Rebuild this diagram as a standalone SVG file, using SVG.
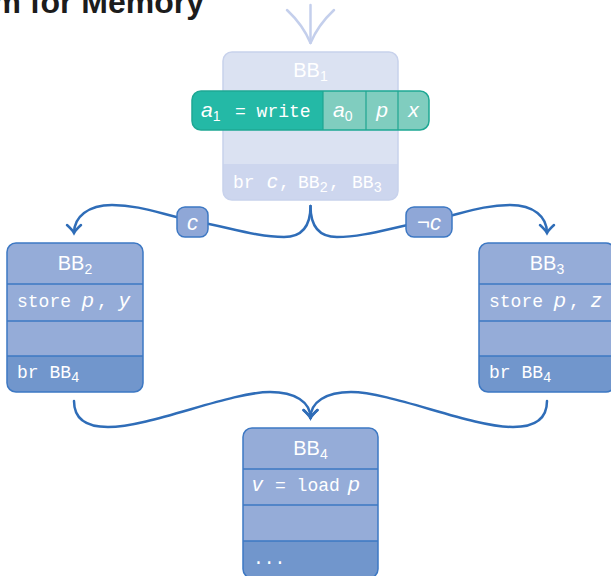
<svg xmlns="http://www.w3.org/2000/svg" width="611" height="576" viewBox="0 0 611 576">
  <style>
    .sans { font-family: "Liberation Sans", Arial, sans-serif; }
    .mono { font-family: "Liberation Mono", "Courier New", monospace; }
    .it { font-style: italic; }
    .w { fill: #ffffff; }
    .blk { fill: #95acd8; }
    .blk-dark { fill: #7196cc; }
    .edge { fill: none; stroke: #3d78c3; stroke-width: 1.5; }
    .row { stroke: #3d78c3; stroke-width: 1.5; }
    .conn { fill: none; stroke: #2f6db8; stroke-width: 2.5; stroke-linecap: round; }
    .hd { font-size: 20px; }
    .code { font-size: 18px; }
    .var { font-size: 21px; }
  </style>
  <defs>
    <marker id="to" markerUnits="userSpaceOnUse" markerWidth="24" markerHeight="24" viewBox="-12 -12 24 24" refX="0" refY="0" orient="auto" overflow="visible">
      <path d="M-8,-7 Q-3,-1.5 0,0 Q-3,1.5 -8,7" fill="none" stroke="#2f6db8" stroke-width="2.5" stroke-linecap="round"/>
    </marker>
  </defs>

  <!-- slide title, clipped at the top edge -->
  <text x="204" y="13" text-anchor="end" class="sans" font-weight="bold" font-size="32" fill="#1c1c1c">m for Memory</text>

  <!-- incoming edge into BB1 (faded) -->
  <g id="entry" fill="none" stroke="#c4cfec" stroke-width="2.5" stroke-linecap="round">
    <path d="M310.5,5 V42"/>
    <path d="M287,10 Q303,25 310.5,43"/>
    <path d="M334,10 Q318,25 310.5,43"/>
  </g>

  <!-- BB1 (faded block) -->
  <g id="bb1">
    <rect x="223" y="52" width="175" height="148" rx="9" fill="#dbe2f2"/>
    <path d="M223,164 H398 V191 A9,9 0 0 1 389,200 H232 A9,9 0 0 1 223,191 Z" fill="#cdd6ee"/>
    <rect x="223" y="52" width="175" height="148" rx="9" fill="none" stroke="#c8d2ec" stroke-width="1.5"/>
    <text x="310.5" y="77" text-anchor="middle" class="sans hd w">BB<tspan font-size="14" dy="4">1</tspan></text>
    <g class="w code">
      <text x="233" y="188" class="mono">br</text>
      <text x="267" y="188" class="sans it var">c</text>
      <text x="279" y="188" class="mono">,</text>
      <text x="298" y="188" class="mono">BB<tspan font-size="14" dy="4">2</tspan></text>
      <text x="329" y="188" class="mono">,</text>
      <text x="352" y="188" class="mono">BB<tspan font-size="14" dy="4">3</tspan></text>
    </g>
  </g>

  <!-- highlighted write instruction -->
  <g id="write">
    <rect x="192" y="91" width="237" height="39" rx="9" fill="#24b9a6"/>
    <path d="M323,91 H420 A9,9 0 0 1 429,100 V121 A9,9 0 0 1 420,130 H323 Z" fill="#80cdbf"/>
    <g stroke="#1ea491" stroke-width="1.2">
      <line x1="323" y1="91" x2="323" y2="130"/>
      <line x1="366" y1="91" x2="366" y2="130"/>
      <line x1="398" y1="91" x2="398" y2="130"/>
    </g>
    <rect x="192" y="91" width="237" height="39" rx="9" fill="none" stroke="#1ea894" stroke-width="1.5"/>
    <g class="w code">
      <text x="201" y="117" class="sans it var">a<tspan font-size="14" dy="4" font-style="normal">1</tspan></text>
      <text x="235" y="117" class="mono">= write</text>
      <text x="333" y="117" class="sans it var">a<tspan font-size="14" dy="4" font-style="normal">0</tspan></text>
      <text x="382" y="117" text-anchor="middle" class="sans it var">p</text>
      <text x="413.5" y="117" text-anchor="middle" class="sans it var">x</text>
    </g>
  </g>

  <!-- BB2 -->
  <g id="bb2">
    <rect x="7" y="243" width="136" height="149" rx="9" class="blk"/>
    <path d="M7,356 H143 V383 A9,9 0 0 1 134,392 H16 A9,9 0 0 1 7,383 Z" class="blk-dark"/>
    <line x1="7" y1="284" x2="143" y2="284" class="row"/>
    <line x1="7" y1="321" x2="143" y2="321" class="row"/>
    <line x1="7" y1="356" x2="143" y2="356" class="row"/>
    <rect x="7" y="243" width="136" height="149" rx="9" class="edge"/>
    <text x="75" y="270" text-anchor="middle" class="sans hd w">BB<tspan font-size="14" dy="4">2</tspan></text>
    <g class="w code">
      <text x="17" y="307" class="mono">store</text>
      <text x="82" y="307" class="sans it var">p</text>
      <text x="97" y="307" class="mono">,</text>
      <text x="119" y="307" class="sans it var">y</text>
      <text x="17" y="378" class="mono">br BB<tspan font-size="14" dy="4">4</tspan></text>
    </g>
  </g>

  <!-- BB3 -->
  <g id="bb3">
    <rect x="479" y="243" width="136" height="149" rx="9" class="blk"/>
    <path d="M479,356 H615 V383 A9,9 0 0 1 606,392 H488 A9,9 0 0 1 479,383 Z" class="blk-dark"/>
    <line x1="479" y1="284" x2="615" y2="284" class="row"/>
    <line x1="479" y1="321" x2="615" y2="321" class="row"/>
    <line x1="479" y1="356" x2="615" y2="356" class="row"/>
    <rect x="479" y="243" width="136" height="149" rx="9" class="edge"/>
    <text x="547" y="270" text-anchor="middle" class="sans hd w">BB<tspan font-size="14" dy="4">3</tspan></text>
    <g class="w code">
      <text x="489" y="307" class="mono">store</text>
      <text x="554" y="307" class="sans it var">p</text>
      <text x="569" y="307" class="mono">,</text>
      <text x="591" y="307" class="sans it var">z</text>
      <text x="489" y="378" class="mono">br BB<tspan font-size="14" dy="4">4</tspan></text>
    </g>
  </g>

  <!-- BB4 -->
  <g id="bb4">
    <rect x="243" y="428" width="135" height="150" rx="9" class="blk"/>
    <path d="M243,541 H378 V569 A9,9 0 0 1 369,578 H252 A9,9 0 0 1 243,569 Z" class="blk-dark"/>
    <line x1="243" y1="469" x2="378" y2="469" class="row"/>
    <line x1="243" y1="505" x2="378" y2="505" class="row"/>
    <line x1="243" y1="541" x2="378" y2="541" class="row"/>
    <rect x="243" y="428" width="135" height="150" rx="9" class="edge"/>
    <text x="310.5" y="455" text-anchor="middle" class="sans hd w">BB<tspan font-size="14" dy="4">4</tspan></text>
    <g class="w code">
      <text x="252" y="491" class="sans it var">v</text>
      <text x="275" y="491" class="mono">= load</text>
      <text x="348" y="491" class="sans it var">p</text>
      <text x="253" y="564" class="mono">...</text>
    </g>
  </g>

  <!-- control-flow edges -->
  <g id="edges">
    <path class="conn" marker-end="url(#to)" d="M310.5,206 C310.5,226 302,237 284,237 C255,237 225,226 193,221 C160,214 140,205 112,205 C88,205 74,217 74,233"/>
    <path class="conn" marker-end="url(#to)" d="M310.5,206 C310.5,226 319,237 337,237 C366,237 396,226 429,221 C462,214 482,205 510,205 C534,205 547,217 547,233"/>
    <path class="conn" marker-end="url(#to)" d="M74,401 C74,420 88,427 108,427 C150,427 230,392 270,392 C295,392 310.5,402 310.5,418"/>
    <path class="conn" marker-end="url(#to)" d="M547,401 C547,420 533,427 513,427 C471,427 391,392 351,392 C326,392 310.5,402 310.5,418"/>
  </g>

  <!-- branch condition labels -->
  <g id="cond-true">
    <rect x="177" y="207" width="31" height="30" rx="8" fill="#8fa7d7" stroke="#3d78c3" stroke-width="1.5"/>
    <text x="192.5" y="230" text-anchor="middle" class="sans it w" font-size="22">c</text>
  </g>
  <g id="cond-false">
    <rect x="406" y="207" width="46" height="30" rx="8" fill="#8fa7d7" stroke="#3d78c3" stroke-width="1.5"/>
    <text x="429" y="230" text-anchor="middle" class="sans w" font-size="22">¬<tspan font-style="italic">c</tspan></text>
  </g>
</svg>
